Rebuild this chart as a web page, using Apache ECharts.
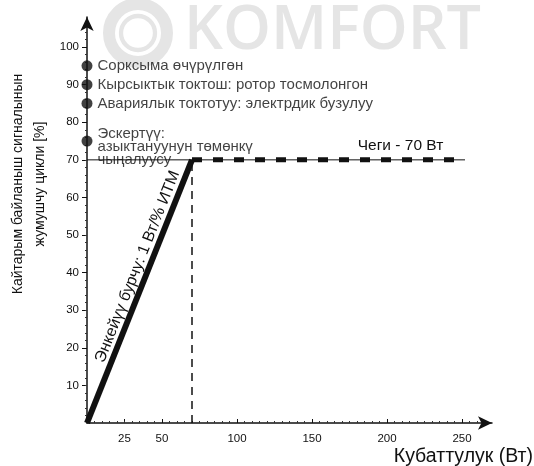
<!DOCTYPE html>
<html>
<head>
<meta charset="utf-8">
<script src="https://cdn.jsdelivr.net/npm/echarts@6/dist/echarts.min.js"></script>
<style>
  html, body { margin: 0; padding: 0; background: #fff; }
  #chart { width: 534px; height: 466px; }
</style>
</head>
<body>
<div id="chart"></div>
<script>
// Duty cycle of the feedback signal vs. power
const xTickLabels = [25, 50, 100, 150, 200, 250];
const yTickLabels = [10, 20, 30, 40, 50, 60, 70, 80, 90, 100];

// Ramp: 1 W per % duty cycle up to the 70 W limit
const rampPoints = [[0, 0], [70, 70]];
// Power limit plateau
const limitLevel = 70;
const limitStart = 70;
const limitEnd = 252;
const limitLabel = 'Чеги - 70 Вт';

// Status signals encoded at fixed duty cycles
const statusValues = [95, 90, 85, 75];
const statusTexts = [
  'Сорксыма өчүрүлгөн',
  'Кырсыктык токтош: ротор тосмолонгон',
  'Авариялык токтотуу: электрдик бузулуу',
  'Эскертүү:\nазыктануунун төмөнкү\nчыңалуусу'
];

const slopeText = 'Энкейүү бурчу: 1 Вт/% ИТМ';
const xTitle = 'Кубаттулук (Вт)';
const yTitle = 'Кайтарым байланыш сигналынын\nжумушчу цикли [%]';

const FONT = '"Liberation Sans", Arial, sans-serif';
const chart = echarts.init(document.getElementById('chart'));

const option = {
  animation: false,
  backgroundColor: '#fff',
  grid: { left: 87, right: 42, top: 17, bottom: 43 },
  xAxis: {
    type: 'value', min: 0, max: 270,
    axisLine: { show: true, lineStyle: { color: '#111', width: 1.5 },
      symbol: ['none', 'arrow'], symbolSize: [10, 14] },
    axisTick: { show: true, customValues: xTickLabels, length: 4, inside: true,
      lineStyle: { color: '#111', width: 1 } },
    minorTick: { show: true, splitNumber: 10, length: 2, lineStyle: { color: '#333' } },
    axisLabel: { customValues: xTickLabels, color: '#111', fontSize: 11.5, fontFamily: FONT, margin: 10 },
    splitLine: { show: false }
  },
  yAxis: {
    type: 'value', min: 0, max: 108,
    axisLine: { show: true, lineStyle: { color: '#111', width: 1.5 },
      symbol: ['none', 'arrow'], symbolSize: [10, 14] },
    axisTick: { show: true, customValues: yTickLabels, length: 5, lineStyle: { color: '#111' } },
    minorTick: { show: true, splitNumber: 10, length: 2, lineStyle: { color: '#333' } },
    axisLabel: { customValues: yTickLabels, color: '#111', fontSize: 11.5, fontFamily: FONT, margin: 8 },
    splitLine: { show: false }
  },
  series: [
    {
      // thin reference line at the 70 % level
      type: 'line', data: [[0, limitLevel], [limitEnd, limitLevel]],
      symbol: 'none', lineStyle: { color: '#111', width: 1 }, z: 2
    },
    {
      // power limit plateau
      type: 'line', data: [[limitStart, limitLevel], [limitEnd, limitLevel]],
      symbol: 'none', lineStyle: { color: '#111', width: 5, type: [10, 11] }, z: 3
    },
    {
      // vertical marker at the limit power
      type: 'line', data: [[limitStart, 0], [limitStart, limitLevel]],
      symbol: 'none', lineStyle: { color: '#111', width: 1.5, type: [8, 6] }, z: 2
    },
    {
      // ramp
      type: 'line', data: rampPoints, symbol: 'none',
      lineStyle: { color: '#111', width: 6, cap: 'butt' }, z: 4
    },
    {
      type: 'scatter',
      data: statusValues.map((v, i) => ({ value: [0, v], name: statusTexts[i] })),
      symbolSize: 11, itemStyle: { color: '#111' }, z: 5,
      label: {
        show: true, position: 'right', distance: 5,
        formatter: p => p.name, color: '#111', fontSize: 15, fontFamily: FONT,
        lineHeight: 13, align: 'left'
      },
      labelLayout: p => (p.dataIndex === 3 ? { dy: 6 } : {})
    }
  ]
};
chart.setOption(option);

// Position annotations from data coordinates
const p0 = chart.convertToPixel('grid', rampPoints[0]);
const p1 = chart.convertToPixel('grid', rampPoints[1]);
const slopeAngle = Math.atan2(p0[1] - p1[1], p1[0] - p0[0]);
const mid = chart.convertToPixel('grid', [40.5, 40.5]);
const off = 11;
const slopeX = mid[0] - off * Math.sin(slopeAngle);
const slopeY = mid[1] - off * Math.cos(slopeAngle);
const limitPx = chart.convertToPixel('grid', [209, limitLevel]);

chart.setOption({
  graphic: [
    // KOMFORT mark in the background
    { type: 'circle', shape: { cx: 138, cy: 33, r: 29 }, z: -10, silent: true,
      style: { fill: 'none', stroke: '#e5e5e5', lineWidth: 12 } },
    { type: 'circle', shape: { cx: 138, cy: 33, r: 17 }, z: -10, silent: true,
      style: { fill: 'none', stroke: '#e5e5e5', lineWidth: 4.3 } },
    { type: 'text', x: 184, y: 32, z: -10, silent: true,
      style: { text: 'KOMFORT', fill: '#e5e5e5', font: '600 61px "Open Sans", "Liberation Sans", sans-serif',
        textAlign: 'left', textVerticalAlign: 'middle' } },
    { type: 'text', x: limitPx[0], y: limitPx[1] - 14, z: 10,
      style: { text: limitLabel, fill: '#111', font: '15.5px ' + FONT, textAlign: 'center', textVerticalAlign: 'middle' } },
    { type: 'text', x: slopeX, y: slopeY, rotation: slopeAngle, z: 10,
      style: { text: slopeText, fill: '#111', font: '16px ' + FONT, textAlign: 'center', textVerticalAlign: 'middle' } },
    { type: 'text', x: 533, y: 457, z: 10,
      style: { text: xTitle, fill: '#111', font: '19.5px ' + FONT, textAlign: 'right', textVerticalAlign: 'middle' } },
    { type: 'text', x: 29, y: 184, rotation: Math.PI / 2, z: 10,
      style: { text: yTitle, fill: '#111', font: '14px ' + FONT, textAlign: 'center', textVerticalAlign: 'middle', lineHeight: 22 } }
  ]
});
</script>
</body>
</html>
